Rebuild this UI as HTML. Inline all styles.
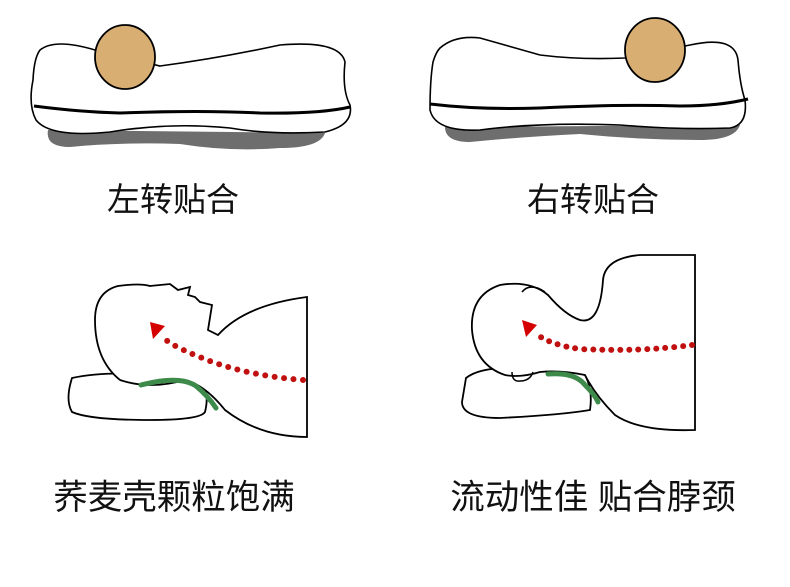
<!DOCTYPE html>
<html><head><meta charset="utf-8"><style>
html,body{margin:0;padding:0;background:#fff;width:790px;height:587px;overflow:hidden}
svg{display:block}
text{font-family:"Liberation Sans","Noto Sans CJK SC",sans-serif;fill:#111}
</style></head><body>
<svg width="790" height="587" viewBox="0 0 790 587" xmlns="http://www.w3.org/2000/svg">
<g fill="none" stroke="#000" stroke-width="2">
<!-- top left pillow -->
<path d="M48,130 Q45,147 70,147 Q120,142 180,144 Q230,152 280,148 Q320,148 325,133 Z" fill="#6e6e6e" stroke="none"/>
<path d="M40,50 Q55,38 95,50 L160,66 Q220,58 280,45 Q340,40 345,62 Q342,90 350,105 Q354,125 325,132 Q270,135 230,128 Q170,122 110,132 Q50,138 36,120 Q28,105 33,80 Q34,58 40,50 Z" fill="#fff" stroke-width="1.6"/>
<path d="M34,106 Q80,112 120,113 Q200,110 260,113 Q320,114 350,107" stroke-width="3"/>
<ellipse cx="125" cy="57" rx="30" ry="32" fill="#D8AE72" stroke-width="1.8"/>
<!-- top right pillow -->
<path d="M445,127 Q445,142 470,142 Q520,137 580,134 Q640,140 700,140 Q735,140 740,125 Z" fill="#6e6e6e" stroke="none"/>
<path d="M440,48 Q455,35 480,38 L540,55 Q580,60 625,58 L690,45 Q735,35 738,60 Q740,85 745,100 Q748,125 730,128 Q680,130 620,125 Q540,122 480,130 Q435,132 430,110 Q430,80 433,62 Q436,52 440,48 Z" fill="#fff" stroke-width="1.6"/>
<path d="M430,104 Q480,110 540,108 Q620,104 680,106 Q720,106 748,99" stroke-width="3"/>
<ellipse cx="655" cy="50" rx="30" ry="32" fill="#D8AE72" stroke-width="1.8"/>
<!-- bottom left figure -->
<path d="M72,378 Q100,372 140,374 Q190,374 200,382 Q210,392 205,412 Q200,420 150,420 Q90,420 72,412 Q65,400 72,378 Z" fill="#fff" stroke-width="1.8"/>
<path d="M120,380 Q95,360 95,320 Q95,292 118,286 Q140,283 150,286 L170,284 L178,290 L190,287 L188,295 L195,297 L200,302 L212,305 L208,330 L218,335 Q245,305 307,297 L307,437 Q260,437 225,410 Q205,385 185,380 Q150,390 120,380" fill="#fff" stroke-width="1.8"/>
<path d="M141,385 Q180,375 196,386 Q208,396 216,408" stroke="#3d8a4a" stroke-width="5" stroke-linecap="round"/>
<path d="M303,380 Q240,375 195,355 Q170,345 160,335" stroke="#c01010" stroke-width="6" stroke-dasharray="0 9.5" stroke-linecap="round"/>
<path d="M150,322 L165,326 L153,339 Z" fill="#d40000" stroke="none"/>
<!-- bottom right figure -->
<path d="M466,378 Q480,367 515,368 Q570,368 585,375 Q593,390 590,410 Q560,415 500,418 Q462,418 462,402 Z" fill="#fff" stroke-width="1.8"/>
<path d="M505,375 Q475,365 472,330 Q470,295 500,285 Q530,280 548,295 Q565,315 580,320 Q600,325 603,280 Q605,258 640,255 L695,255 L695,430 Q640,432 615,415 Q595,395 585,375 Q560,370 540,372 Q520,378 505,375" fill="#fff" stroke-width="1.8"/>
<path d="M522,292 Q530,282 545,292" stroke-width="1.6"/>
<path d="M512,372 Q512,382 520,381 Q530,381 533,372" stroke-width="1.5"/>
<path d="M548,374 Q575,372 585,385 Q595,395 598,402" stroke="#3d8a4a" stroke-width="5" stroke-linecap="round"/>
<path d="M692,345 Q640,352 580,349 Q550,345 535,333" stroke="#c01010" stroke-width="6" stroke-dasharray="0 9" stroke-linecap="round"/>
<path d="M522,320 L537,325 L526,337 Z" fill="#d40000" stroke="none"/>
</g>
<text x="173" y="211" font-size="33" text-anchor="middle">左转贴合</text>
<text x="593" y="211" font-size="33" text-anchor="middle">右转贴合</text>
<text x="174" y="509" font-size="34.5" text-anchor="middle">荞麦壳颗粒饱满</text>
<text x="593" y="509" font-size="34.5" text-anchor="middle">流动性佳 贴合脖颈</text>
</svg>
</body></html>
